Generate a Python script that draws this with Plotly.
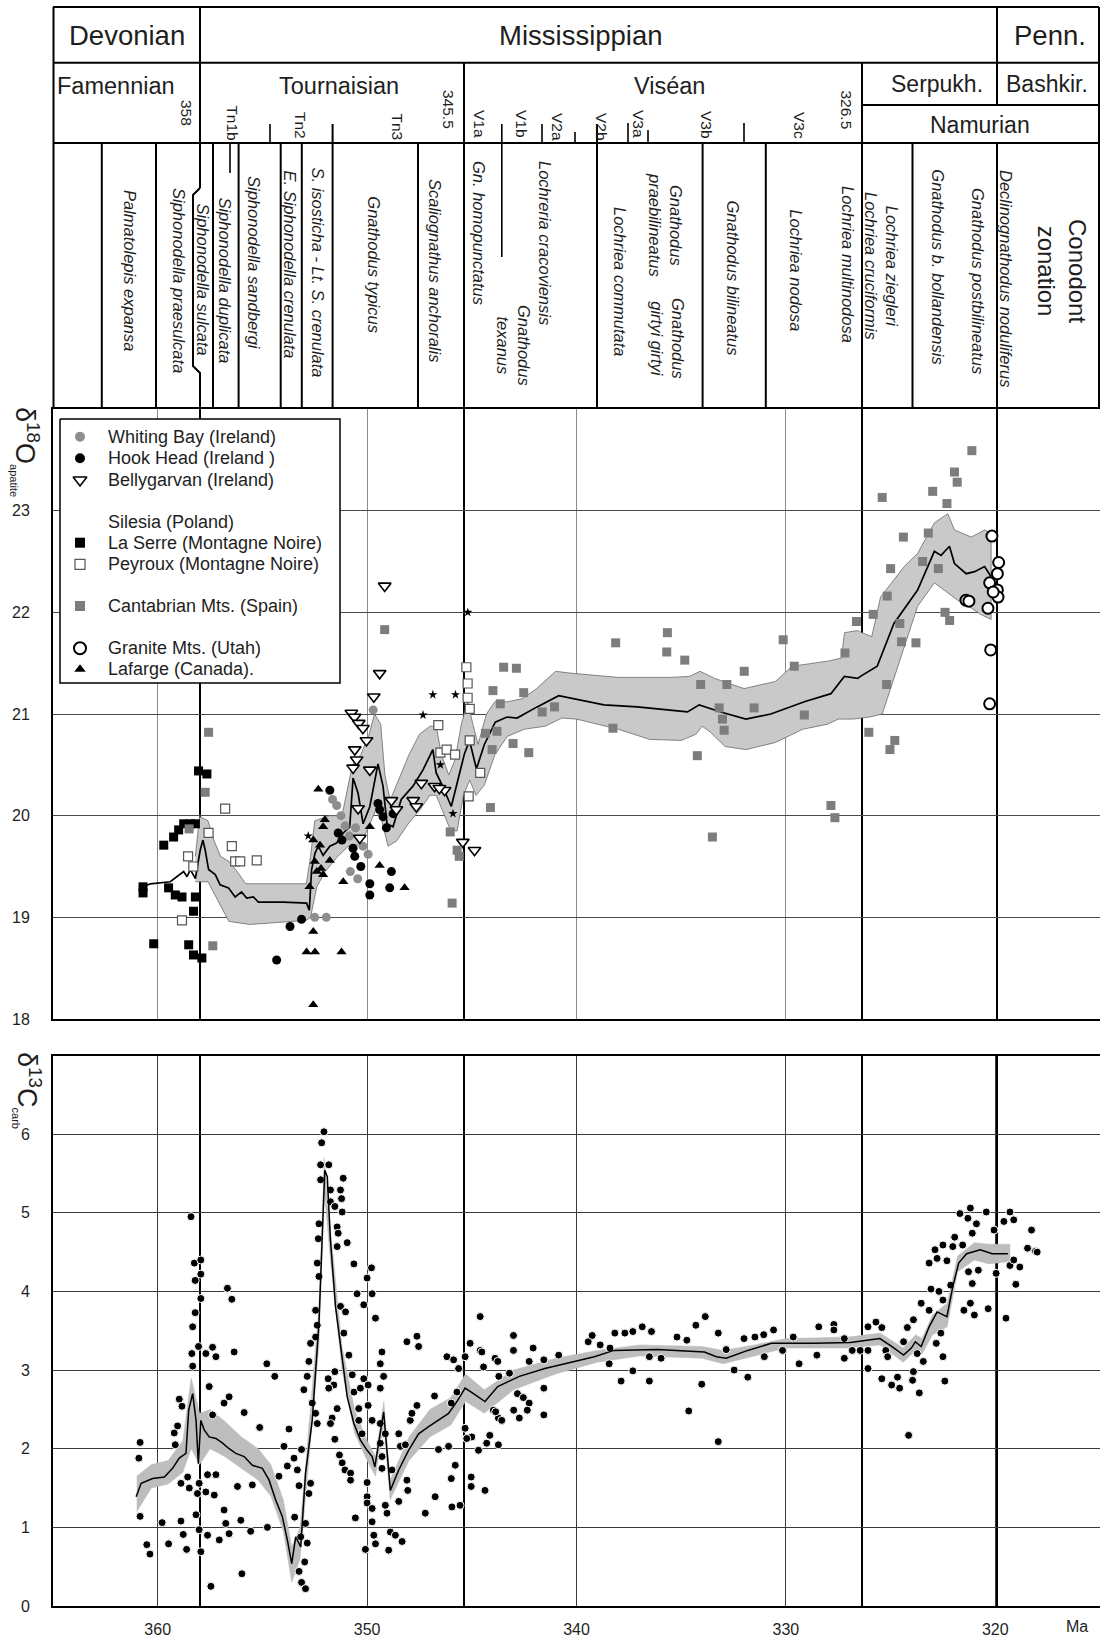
import plotly.graph_objects as go

# ======================= DATA =======================
# d18O apatite (per mil) vs age (Ma)
whiting_age = [349.71, 351.65, 351.45, 351.25, 350.55, 350.85, 351.05, 350.80, 350.45, 349.95, 352.50, 351.95, 350.20]
whiting_d18O = [21.04, 20.16, 20.10, 20.00, 19.88, 19.80, 19.90, 19.45, 19.38, 19.62, 19.00, 19.00, 19.70]

hook_age = [351.78, 351.38, 351.20, 350.67, 350.59, 349.87, 349.87, 348.84, 348.92, 349.48, 349.40, 349.24, 348.76, 349.08, 353.68, 353.13, 354.32, 350.30]
hook_d18O = [20.25, 19.83, 19.76, 19.68, 19.60, 19.33, 19.22, 19.45, 19.29, 20.12, 20.06, 19.99, 20.02, 19.88, 18.91, 18.98, 18.58, 19.50]

belly_age = [349.16, 349.40, 349.68, 350.75, 350.60, 350.40, 350.20, 350.03, 350.59, 350.50, 350.67, 349.87, 350.43, 348.84, 348.60, 347.80, 347.65, 347.41, 346.78, 346.30, 345.43, 344.87, 350.35, 346.55]
belly_d18O = [22.26, 21.40, 21.17, 21.01, 20.97, 20.91, 20.86, 20.74, 20.65, 20.55, 20.47, 20.45, 20.07, 20.15, 20.06, 20.15, 20.09, 20.32, 20.29, 20.25, 19.74, 19.66, 19.78, 20.27]

silesia_age = [345.19, 346.86, 345.78, 347.33, 352.81, 346.50, 345.90]
silesia_d18O = [22.00, 21.19, 21.19, 20.99, 19.80, 20.50, 20.02]

laserre_age = [360.70, 360.70, 358.05, 357.65, 358.76, 358.44, 358.20, 359.00, 359.24, 359.71, 359.48, 359.16, 358.84, 358.20, 358.29, 360.19, 358.52, 358.29, 357.89]
laserre_d18O = [19.30, 19.24, 20.44, 20.41, 19.92, 19.92, 19.92, 19.86, 19.79, 19.71, 19.29, 19.22, 19.20, 19.20, 19.06, 18.74, 18.73, 18.63, 18.60]

peyroux_age = [356.78, 357.57, 356.46, 356.30, 356.06, 355.27, 358.30, 358.84, 358.55, 345.26, 345.20, 345.20, 345.10, 346.60, 346.50, 346.20, 345.80, 344.60, 345.15, 345.10]
peyroux_d18O = [20.07, 19.83, 19.70, 19.55, 19.55, 19.56, 19.50, 18.97, 19.60, 21.46, 21.30, 21.16, 21.05, 20.89, 20.62, 20.65, 20.60, 20.42, 20.19, 20.74]

cantab_age = [349.16, 357.57, 357.73, 358.50, 357.37, 346.03, 345.70, 345.60, 345.94, 344.11, 344.03, 343.80, 343.03, 342.28,
              344.35, 343.64, 343.99, 343.48, 342.87, 342.52, 341.64, 341.05, 338.13, 338.26, 335.66, 335.69, 334.83, 334.07,
              332.82, 331.99, 333.19, 333.03, 332.95, 334.23, 333.51, 331.52, 330.13, 329.60, 329.12, 327.85, 327.66, 327.18,
              326.63, 321.12, 321.95, 321.82, 322.99, 322.31, 325.40, 324.39, 323.20, 323.47, 322.72, 325.00, 325.16, 325.83,
              324.56, 322.40, 322.18, 324.48, 323.79, 325.19, 326.04, 324.80, 325.03]
cantab_d18O = [21.83, 20.82, 20.23, 19.87, 18.72, 19.84, 19.66, 19.60, 19.14, 20.08, 20.65, 20.83, 20.71, 20.62,
               20.81, 21.10, 21.23, 21.46, 21.45, 21.21, 21.02, 21.07, 21.70, 20.86, 21.80, 21.61, 21.53, 21.29,
               21.29, 21.42, 21.06, 20.95, 20.84, 20.59, 19.79, 21.06, 21.73, 21.47, 20.99, 20.10, 19.98, 21.60,
               21.91, 23.59, 23.38, 23.28, 23.19, 23.07, 23.13, 22.74, 22.78, 22.50, 22.43, 22.43, 22.16, 21.98,
               21.89, 22.00, 21.92, 21.71, 21.70, 21.29, 20.82, 20.74, 20.65]

granite_age = [320.16, 319.84, 319.90, 320.27, 319.90, 319.87, 321.40, 321.26, 320.35, 320.22, 320.27, 320.10]
granite_d18O = [22.75, 22.49, 22.38, 22.29, 22.22, 22.15, 22.12, 22.11, 22.04, 21.63, 21.10, 22.20]

lafarge_age = [352.33, 352.02, 352.10, 352.57, 352.25, 351.78, 352.50, 352.20, 352.10, 352.40, 351.14, 352.57, 352.89, 352.49, 351.22, 352.57, 349.87, 349.40, 348.21, 352.75]
lafarge_d18O = [20.26, 19.96, 19.89, 19.76, 19.71, 19.56, 19.55, 19.48, 19.42, 19.45, 19.35, 18.86, 18.66, 18.66, 18.66, 18.14, 19.89, 19.51, 19.29, 19.30]

# smoothed d18O curve
smooth18_age = [360.70, 360.35, 359.40, 359.08, 358.76, 358.60, 358.44, 358.20, 357.97, 357.84, 357.73, 357.57, 357.25, 357.02,
                356.62, 356.30, 356.00, 355.75, 355.43, 355.19, 354.00, 352.89, 352.76, 352.65, 352.49, 352.33, 352.10, 351.78,
                351.46, 351.14, 350.83, 350.67, 350.43, 350.19, 349.87, 349.48, 349.24, 349.05, 348.76, 348.37, 347.81, 347.33,
                346.86, 346.70, 346.46, 345.98, 345.67, 345.35, 345.11, 344.78, 344.40, 343.88, 343.32, 342.84, 341.88, 340.85,
                338.69, 337.10, 334.70, 334.14, 333.11, 331.91, 330.72, 329.12, 327.85, 327.21, 326.57, 326.44, 325.64, 324.84,
                323.71, 322.91, 322.59, 322.19, 321.95, 321.39, 320.99, 320.51, 320.20]
smooth18_val = [19.30, 19.33, 19.35, 19.40, 19.45, 19.40, 19.47, 19.38, 19.66, 19.76, 19.66, 19.47, 19.42, 19.32,
                19.29, 19.20, 19.25, 19.19, 19.20, 19.15, 19.15, 19.14, 19.07, 19.47, 19.63, 19.70, 19.61, 19.70,
                19.73, 19.83, 19.89, 20.37, 20.22, 19.92, 20.09, 20.51, 20.29, 19.92, 19.89, 20.16, 20.29, 20.45,
                20.65, 20.42, 20.32, 20.09, 20.35, 20.61, 20.74, 20.46, 20.70, 20.92, 20.97, 20.96, 21.07, 21.18,
                21.09, 21.07, 21.02, 21.09, 21.02, 20.95, 21.00, 21.12, 21.20, 21.37, 21.35, 21.37, 21.47, 21.89,
                22.22, 22.60, 22.56, 22.65, 22.48, 22.38, 22.40, 22.45, 22.35]

band18_up_age = [358.20, 358.00, 357.60, 357.30, 357.00, 356.60, 356.20, 355.80, 352.90, 352.70, 352.50, 351.80, 351.20,
                 350.70, 350.30, 349.90, 349.65, 349.35, 349.15, 348.90, 348.50, 348.00, 347.50, 347.00, 346.70, 346.45,
                 346.10, 345.80, 345.50, 345.20, 344.95, 344.70, 344.30, 343.90, 343.30, 342.60, 341.90, 341.00, 340.20,
                 338.00, 335.50, 334.60, 334.10, 333.40, 332.00, 330.50, 329.70, 328.00, 327.35, 327.20, 326.60, 325.90,
                 325.48, 324.35, 323.71, 322.91, 322.27, 321.95, 321.15, 320.51, 320.20]
band18_up_val = [19.60, 19.99, 19.95, 19.75, 19.60, 19.55, 19.45, 19.33, 19.33, 19.60, 19.95, 20.00, 20.00,
                 20.50, 20.60, 20.80, 21.00, 20.90, 20.40, 20.15, 20.35, 20.60, 20.80, 20.88, 20.88, 20.60,
                 20.40, 20.55, 20.90, 21.12, 20.90, 20.70, 21.00, 21.12, 21.12, 21.15, 21.25, 21.42, 21.40,
                 21.36, 21.36, 21.37, 21.42, 21.35, 21.25, 21.32, 21.47, 21.52, 21.55, 21.80, 21.82, 21.76,
                 22.15, 22.45, 22.58, 22.88, 22.97, 22.81, 22.74, 22.81, 22.78]
band18_lo_age = [358.20, 357.60, 357.20, 356.60, 355.60, 352.90, 352.70, 352.40, 352.00, 351.40, 350.90, 350.50, 350.00,
                 349.60, 349.30, 349.00, 348.60, 348.00, 347.50, 347.00, 346.70, 346.40, 346.00, 345.70, 345.40, 345.10,
                 344.80, 344.40, 343.90, 343.30, 342.50, 341.50, 340.70, 340.00, 338.00, 336.50, 335.00, 334.30, 334.00,
                 333.60, 332.90, 331.90, 330.50, 329.20, 328.00, 327.50, 326.80, 326.00, 325.40, 324.67, 323.71, 322.91,
                 322.27, 321.80, 321.20, 320.70, 320.20]
band18_lo_val = [19.35, 19.35, 19.20, 18.96, 18.93, 18.97, 19.00, 19.30, 19.45, 19.60, 19.70, 19.70, 19.85,
                 20.05, 19.95, 19.70, 19.75, 19.93, 20.05, 20.20, 20.20, 20.05, 19.85, 19.85, 20.20, 20.35,
                 20.20, 20.30, 20.60, 20.78, 20.85, 20.88, 20.96, 20.95, 20.85, 20.75, 20.74, 20.80, 20.88,
                 20.82, 20.68, 20.65, 20.72, 20.85, 20.90, 20.95, 20.95, 20.97, 21.00, 21.47, 22.06, 22.29,
                 22.19, 22.12, 22.05, 21.98, 21.93]

# d13C carbonate (per mil) vs age (Ma)
c13_points = [
    (360.84, 2.08), (360.90, 1.88), (360.84, 1.14), (360.52, 0.78), (360.37, 0.66), (359.79, 1.06), (359.48, 0.79),
    (358.89, 1.08), (358.78, 0.91), (358.62, 0.72), (358.97, 2.63), (358.84, 2.54), (359.21, 2.20), (359.05, 2.29),
    (359.16, 2.05), (358.89, 1.56), (358.57, 1.64), (358.49, 1.50), (358.41, 4.95), (358.25, 4.36), (357.94, 4.40),
    (357.94, 4.22), (358.21, 4.14), (357.94, 3.91), (358.21, 3.73), (358.33, 3.55), (358.37, 3.21), (358.33, 3.05),
    (358.05, 3.30), (357.70, 3.21), (357.38, 3.29), (357.22, 3.17), (358.17, 1.16), (358.02, 0.97), (357.94, 0.69),
    (358.02, 1.56), (358.10, 1.43), (357.70, 1.45), (357.62, 1.67), (357.30, 1.41), (357.22, 1.67), (357.38, 2.43),
    (357.54, 2.79), (356.83, 2.58), (356.59, 2.66), (357.62, 0.90), (357.06, 0.84), (357.46, 0.25), (356.83, 1.22),
    (356.75, 1.05), (356.59, 0.92), (356.35, 3.23), (356.67, 4.04), (356.46, 3.90), (356.19, 1.52), (356.03, 1.09),
    (355.98, 0.41), (355.87, 2.46), (355.56, 0.95), (355.48, 1.54), (355.13, 2.27), (354.79, 3.08), (354.76, 1.00),
    (354.41, 2.92), (354.21, 1.65), (353.97, 2.03), (353.81, 1.78), (353.73, 2.25), (353.49, 1.88), (353.46, 1.13),
    (353.33, 1.73), (353.25, 1.53), (353.17, 0.88), (353.25, 0.44), (353.13, 0.30), (352.94, 0.22), (352.98, 0.56),
    (352.86, 0.80), (352.94, 1.05), (352.78, 1.43), (352.70, 1.56), (353.13, 1.99), (353.02, 2.75), (352.86, 2.92),
    (352.78, 3.11), (352.70, 3.34), (352.46, 3.42), (352.62, 2.58), (352.46, 2.45), (352.38, 2.32), (352.46, 3.76),
    (352.38, 3.57), (352.30, 4.19), (352.38, 4.36), (352.33, 4.67), (352.30, 4.86), (352.22, 5.61), (352.22, 5.42),
    (352.17, 5.89), (352.06, 6.03), (351.83, 5.61), (351.75, 5.29), (351.75, 5.14), (351.54, 5.08), (351.27, 5.29),
    (351.22, 5.18), (351.14, 5.44), (351.19, 5.01), (351.43, 4.82), (351.38, 4.74), (351.43, 4.57), (350.95, 4.62),
    (350.63, 4.35), (351.27, 3.81), (351.03, 3.74), (351.11, 3.47), (350.87, 3.19), (351.54, 2.98), (351.59, 2.81),
    (351.86, 2.89), (351.83, 2.77), (351.43, 2.51), (351.67, 2.39), (351.75, 2.32), (351.54, 2.12), (350.71, 2.94),
    (350.63, 2.72), (350.32, 2.77), (350.16, 2.89), (349.95, 2.81), (350.40, 2.51), (349.95, 2.55), (350.40, 2.36),
    (350.24, 2.19), (351.32, 1.92), (351.19, 1.82), (351.06, 1.73), (350.79, 1.69), (350.79, 1.60), (350.56, 1.12),
    (350.00, 1.57), (350.00, 1.39), (350.00, 1.31), (349.76, 1.24), (349.76, 1.07), (349.68, 0.90), (350.08, 0.72),
    (349.60, 0.79), (349.13, 1.28), (349.05, 1.18), (348.97, 0.71), (348.89, 0.94), (348.65, 0.90), (348.33, 0.82),
    (350.00, 4.17), (349.79, 4.30), (349.76, 3.97), (350.16, 3.83), (350.48, 3.97), (349.60, 3.66), (349.29, 3.23),
    (349.37, 3.08), (349.21, 2.92), (349.37, 2.77), (349.76, 2.36), (349.37, 2.32), (349.37, 2.07), (349.13, 2.19),
    (349.29, 1.90), (349.29, 1.75), (348.81, 1.73), (348.49, 2.19), (348.41, 2.03), (348.17, 2.05), (348.10, 1.60),
    (348.06, 1.47), (347.94, 2.36), (347.86, 2.45), (347.62, 2.55), (348.49, 1.33), (348.10, 3.36), (347.62, 3.43),
    (347.54, 3.30), (347.22, 1.18), (346.78, 2.67), (346.75, 1.39), (346.59, 1.99), (346.11, 2.03), (346.19, 3.17),
    (345.95, 1.26), (345.98, 1.62), (345.79, 1.79), (345.56, 1.28), (345.98, 2.58), (345.71, 2.72), (345.63, 3.02),
    (345.87, 3.13), (345.32, 3.17), (345.08, 3.34), (344.60, 3.25), (344.60, 3.68), (344.44, 3.04), (345.32, 2.26),
    (345.00, 2.15), (345.24, 2.13), (345.03, 1.64), (345.03, 1.52), (344.37, 1.47), (344.68, 1.98), (344.29, 2.07),
    (343.97, 2.49), (343.73, 2.39), (343.89, 3.15), (343.73, 2.05), (344.52, 3.23), (343.76, 3.11), (343.71, 2.92),
    (343.20, 2.96), (343.86, 2.47), (343.57, 2.36), (343.00, 2.49), (342.73, 2.39), (342.82, 2.70), (342.54, 2.65),
    (342.26, 2.58), (342.35, 2.49), (343.01, 3.44), (343.01, 3.25), (342.26, 3.11), (342.07, 3.28), (341.56, 3.13),
    (341.56, 2.77), (341.56, 2.43), (340.85, 3.19), (344.14, 2.17), (339.44, 3.36), (339.25, 3.44), (338.87, 3.32),
    (338.40, 3.28), (338.44, 3.08), (338.17, 3.47), (337.69, 3.47), (337.31, 3.49), (336.86, 3.55), (336.42, 3.49),
    (337.31, 2.99), (337.87, 2.86), (336.52, 2.86), (336.52, 3.17), (335.96, 3.15), (335.20, 3.42), (334.73, 3.38),
    (334.30, 3.57), (333.85, 3.68), (333.23, 3.47), (334.64, 2.48), (334.02, 2.82), (333.23, 2.09), (332.85, 3.26),
    (332.47, 3.00), (331.82, 2.91), (332.00, 3.40), (331.48, 3.42), (331.06, 3.45), (330.59, 3.51), (331.03, 3.17),
    (330.16, 3.25), (329.65, 3.42), (329.37, 3.08), (328.52, 3.19), (328.43, 3.55), (327.71, 3.58), (327.71, 3.51),
    (327.21, 3.40), (327.21, 3.15), (326.83, 3.25), (326.45, 3.25), (326.08, 3.25), (326.08, 3.02), (326.08, 3.55),
    (325.70, 3.61), (325.42, 3.54), (325.23, 3.25), (325.14, 3.17), (325.42, 2.89), (324.95, 2.81), (324.57, 2.77),
    (324.67, 2.91), (324.38, 3.36), (324.20, 3.54), (323.91, 3.64), (323.95, 2.87), (323.91, 2.98), (323.63, 2.71),
    (323.73, 3.21), (323.54, 3.85), (324.14, 2.17), (323.44, 3.11), (323.16, 4.36), (322.88, 4.53), (322.78, 4.42),
    (323.07, 4.03), (322.69, 4.00), (322.50, 3.89), (323.16, 3.76), (322.82, 3.34), (322.60, 3.47), (322.50, 3.17),
    (322.41, 2.86), (322.50, 4.59), (322.31, 4.39), (322.03, 4.57), (321.94, 4.69), (321.56, 4.59), (321.69, 4.99),
    (321.31, 4.93), (321.19, 5.06), (321.10, 4.74), (320.90, 4.86), (320.43, 5.01), (321.28, 4.25), (321.10, 4.10),
    (320.81, 4.27), (321.19, 3.85), (321.50, 3.76), (321.00, 3.70), (322.13, 4.08), (320.34, 3.78), (320.06, 4.78),
    (319.96, 4.23), (319.59, 4.89), (319.30, 5.01), (319.12, 4.91), (319.49, 3.66), (319.30, 4.33), (319.12, 4.40),
    (318.83, 4.31), (319.02, 4.09), (318.46, 4.55), (318.27, 4.78), (318.08, 4.51), (318.00, 4.50),
]
c13_age = [p[0] for p in c13_points]
c13_val = [p[1] for p in c13_points]

smooth13_age = [361.03, 360.79, 360.24, 359.68, 359.29, 358.97, 358.65, 358.52, 358.33, 358.17, 358.06, 357.94, 357.78,
                357.54, 357.22, 356.90, 356.59, 356.27, 355.87, 355.48, 355.00, 354.68, 354.37, 354.05, 353.81, 353.60,
                353.41, 353.17, 352.94, 352.62, 352.30, 352.14, 352.02, 351.90, 351.75, 351.51, 351.19, 350.95, 350.63,
                350.32, 350.00, 349.76, 349.63, 349.44, 349.21, 348.89, 348.49, 348.02, 347.54, 347.06, 346.59, 346.11,
                345.71, 345.32, 344.92, 344.37, 343.76, 342.73, 341.51, 340.09, 339.15, 338.21, 336.14, 333.89, 333.32,
                332.85, 331.82, 330.69, 328.62, 326.92, 325.51, 324.95, 324.38, 324.01, 323.82, 323.54, 323.16, 322.78,
                322.31, 322.03, 321.75, 321.37, 320.72, 320.15, 319.40]
smooth13_val = [1.39, 1.56, 1.62, 1.64, 1.75, 1.88, 1.94, 2.49, 2.70, 2.36, 1.81, 2.36, 2.24,
                2.15, 2.13, 2.07, 2.00, 1.94, 1.90, 1.79, 1.75, 1.60, 1.35, 1.14, 0.84, 0.54,
                0.88, 0.75, 1.69, 2.36, 3.59, 4.65, 5.54, 5.46, 4.65, 3.81, 3.13, 2.66, 2.32,
                2.11, 1.98, 1.90, 1.77, 2.11, 2.47, 1.47, 1.73, 1.98, 2.19, 2.28, 2.36, 2.45,
                2.60, 2.77, 2.70, 2.60, 2.79, 2.92, 3.02, 3.11, 3.17, 3.25, 3.26, 3.23, 3.17,
                3.15, 3.25, 3.34, 3.34, 3.35, 3.40, 3.30, 3.19, 3.28, 3.36, 3.30, 3.55, 3.74,
                3.68, 4.06, 4.36, 4.48, 4.53, 4.48, 4.48]

band13_age = [361.0, 360.3, 359.5, 358.8, 358.4, 358.0, 357.5, 356.8, 356.0, 355.2, 354.6, 354.0, 353.6, 353.2, 352.9,
              352.3, 352.05, 351.75, 351.2, 350.6, 350.0, 349.6, 349.2, 348.9, 348.0, 347.0, 346.0, 345.3, 344.4, 343.0,
              341.0, 339.0, 337.0, 334.0, 333.0, 331.5, 330.0, 327.0, 325.5, 324.4, 323.8, 323.5, 323.0, 322.3, 321.8,
              321.0, 320.3, 319.3]
band13_lo = [1.20, 1.50, 1.55, 1.70, 2.00, 1.80, 2.00, 1.90, 1.75, 1.60, 1.40, 0.95, 0.30, 0.60, 1.50,
             3.30, 5.30, 4.40, 3.00, 2.20, 1.85, 1.65, 2.30, 1.35, 1.85, 2.15, 2.30, 2.60, 2.45, 2.75,
             2.95, 3.10, 3.18, 3.15, 3.08, 3.18, 3.28, 3.28, 3.32, 3.10, 3.25, 3.20, 3.45, 3.55, 4.25,
             4.40, 4.35, 4.38]
band13_up = [1.65, 1.80, 1.85, 2.10, 2.90, 2.45, 2.50, 2.35, 2.15, 2.00, 1.80, 1.35, 0.75, 1.00, 1.90,
             3.80, 5.70, 4.80, 3.30, 2.50, 2.10, 1.90, 2.60, 1.60, 2.15, 2.50, 2.65, 2.95, 2.75, 3.00,
             3.15, 3.25, 3.32, 3.30, 3.25, 3.32, 3.40, 3.42, 3.47, 3.28, 3.45, 3.40, 3.70, 3.85, 4.45,
             4.62, 4.60, 4.60]

x_ticks = [360, 350, 340, 330, 320]
y18_ticks = [18, 19, 20, 21, 22, 23]
y13_ticks = [0, 1, 2, 3, 4, 5, 6]

# ======================= LAYOUT HELPERS =======================
W, H = 1100, 1640
ML, MR, MT, MB = 53, 0, 0, 34
PW, PH = W - ML - MR, H - MT - MB
XR = [365.0, 315.0]
FONT = "Liberation Sans, Arial, Helvetica, sans-serif"
INK = "#1e1e1e"

TOP, R1, R2, RSPL, HB = 7, 62.7, 143, 105, 409
P1B, P2T, P2B = 1019, 1055.5, 1606
B358, B345, B326, B320 = 200, 464, 862, 997


def px(xp):
    return (xp - ML) / PW


def py(yp):
    return (PH - (yp - MT)) / PH


fig = go.Figure()

# ---- d18O panel ----
fig.add_trace(go.Scatter(x=band18_up_age + band18_lo_age[::-1], y=band18_up_val + band18_lo_val[::-1],
                         fill="toself", fillcolor="#c9c9c9", line=dict(color="#6a6a6a", width=0.8),
                         mode="lines", hoverinfo="skip", showlegend=False, xaxis="x", yaxis="y"))
fig.add_trace(go.Scatter(x=smooth18_age, y=smooth18_val, mode="lines", line=dict(color="black", width=1.7),
                         showlegend=False, xaxis="x", yaxis="y"))

M_WHITING = dict(symbol="circle", size=9, color="#8e8e8e")
M_HOOK = dict(symbol="circle", size=9, color="black")
M_BELLY = dict(symbol="triangle-down", size=11, color="white", line=dict(color="black", width=1.6))
M_SILESIA = dict(symbol="star", size=7, color="black")
M_LASERRE = dict(symbol="square", size=9, color="black")
M_PEYROUX = dict(symbol="square", size=9, color="white", line=dict(color="#555555", width=1.2))
M_CANTAB = dict(symbol="square", size=9, color="#7d7d7d")
M_GRANITE = dict(symbol="circle", size=11, color="white", line=dict(color="black", width=2))
M_LAFARGE = dict(symbol="triangle-up", size=9, color="black")

series = [
    ("Whiting Bay (Ireland)", whiting_age, whiting_d18O, M_WHITING),
    ("Hook Head (Ireland )", hook_age, hook_d18O, M_HOOK),
    ("Bellygarvan (Ireland)", belly_age, belly_d18O, M_BELLY),
    ("Silesia (Poland)", silesia_age, silesia_d18O, M_SILESIA),
    ("La Serre (Montagne Noire)", laserre_age, laserre_d18O, M_LASERRE),
    ("Peyroux (Montagne Noire)", peyroux_age, peyroux_d18O, M_PEYROUX),
    ("Cantabrian Mts. (Spain)", cantab_age, cantab_d18O, M_CANTAB),
    ("Granite Mts. (Utah)", granite_age, granite_d18O, M_GRANITE),
    ("Lafarge (Canada).", lafarge_age, lafarge_d18O, M_LAFARGE),
]
for name, xs, ys, mk in series:
    fig.add_trace(go.Scatter(x=xs, y=ys, mode="markers", name=name, marker=mk, showlegend=False,
                             xaxis="x", yaxis="y"))

# ---- d13C panel ----
fig.add_trace(go.Scatter(x=band13_age + band13_age[::-1], y=band13_up + band13_lo[::-1], fill="toself",
                         fillcolor="#bdbdbd", line=dict(color="#bdbdbd", width=0.5), mode="lines",
                         hoverinfo="skip", showlegend=False, xaxis="x2", yaxis="y2"))
fig.add_trace(go.Scatter(x=c13_age, y=c13_val, mode="markers",
                         marker=dict(symbol="circle", size=8, color="black", line=dict(color="white", width=1)),
                         showlegend=False, xaxis="x2", yaxis="y2"))
fig.add_trace(go.Scatter(x=smooth13_age, y=smooth13_val, mode="lines", line=dict(color="black", width=1.5),
                         showlegend=False, xaxis="x2", yaxis="y2"))

# ---- hand-made legend box (pixel-space overlay axes on the d18O panel) ----
LEG_BOX = (60, 419, 340, 683)
LEG_SYM_X, LEG_TXT_X = 80, 106
LEG_ROWS = [436.7, 458.3, 480.0, 521.7, 542.7, 564.3, 606.0, 648.3, 669.3]
bx0, by0, bx1, by1 = LEG_BOX
fig.add_trace(go.Scatter(x=[bx0, bx1, bx1, bx0, bx0], y=[by0, by0, by1, by1, by0], mode="lines",
                         fill="toself", fillcolor="white", line=dict(color="black", width=1.5),
                         hoverinfo="skip", showlegend=False, xaxis="x3", yaxis="y3"))
for (name, _, _, mk), ry in zip(series, LEG_ROWS):
    if name.startswith("Silesia"):
        continue  # the reference shows no symbol for Silesia in the key
    lm = dict(mk)
    lm["size"] = mk["size"] + 1
    fig.add_trace(go.Scatter(x=[LEG_SYM_X], y=[ry], mode="markers", marker=lm, hoverinfo="skip",
                             showlegend=False, xaxis="x3", yaxis="y3"))

# ======================= SHAPES =======================
shapes = []


def vline(xp, y0, y1, w=2, c="black", layer="above"):
    shapes.append(dict(type="line", xref="paper", yref="paper", x0=px(xp), x1=px(xp), y0=py(y0), y1=py(y1),
                       line=dict(color=c, width=w), layer=layer))


def hline(y, x0, x1, w=2, c="black"):
    shapes.append(dict(type="line", xref="paper", yref="paper", x0=px(x0), x1=px(x1), y0=py(y), y1=py(y),
                       line=dict(color=c, width=w)))


hline(TOP, ML, 1099)
hline(R1, ML, 1099)
hline(R2, ML, 1099)
hline(RSPL, B326, 1099)
vline(ML + 0.5, TOP, HB)
vline(1099, TOP, HB)
vline(B358, TOP, 188)
shapes.append(dict(type="path", xref="paper", yref="paper",
                   path=f"M {px(B358)},{py(188)} L {px(193)},{py(195)} L {px(193)},{py(366)} "
                        f"L {px(B358)},{py(373)} L {px(B358)},{py(HB)}",
                   line=dict(color="black", width=2)))
vline(B345, R1, HB)
vline(B326, R1, HB)
vline(B320, TOP, RSPL)
vline(B320, R2, HB)
for xz in [101.8, 156, 213, 238.6, 280.7, 301.8, 418, 702.6, 765.8, 912.5]:
    vline(xz, R2, HB)
vline(332.6, 124, HB)
vline(597, 124, HB)
vline(501.8, 124, 257, w=1.6)
vline(230, R2, 173, w=1.6)
for xt, yt in [(270, 124), (542, 124), (575, 132), (628, 123), (648, 130), (744, 123)]:
    vline(xt, yt, R2, w=1.6)
for xb in [B358, B345, B326, B320]:
    vline(xb, HB, P1B, w=2, layer="between")
    vline(xb, P2T, P2B, w=2, layer="between")

# ======================= ANNOTATIONS =======================
ann = []


def txt(t, xp, yp, size, angle=0, italic=False, align="center", xanchor="center"):
    ann.append(dict(text=t, x=px(xp), y=py(yp), xref="paper", yref="paper", showarrow=False,
                    textangle=angle, align=align, xanchor=xanchor, yanchor="middle",
                    font=dict(family=FONT, size=size, color=INK, style="italic" if italic else "normal")))


txt("Devonian", 127, 36, 27.5)
txt("Mississippian", 581, 36, 27.5)
txt("Penn.", 1050, 36, 27.5)
txt("Famennian", 116, 86, 23.5)
txt("Tournaisian", 339, 86, 23.5)
txt("Viséan", 669, 86, 23.5)
txt("Serpukh.", 937, 84, 23)
txt("Bashkir.", 1047, 84, 23)
txt("Namurian", 980, 125, 23)

for label, xl, yl in [("358", 186, 113), ("Tn1b", 231.6, 123), ("Tn2", 300, 125), ("Tn3", 396.5, 127),
                      ("345.5", 449, 109), ("V1a", 479, 124), ("V1b", 521, 124), ("V2a", 557, 127),
                      ("V2b", 601, 127), ("V3a", 638, 124), ("V3b", 706, 125), ("V3c", 799, 125),
                      ("326.5", 846.5, 110)]:
    txt(label, xl, yl, 15.5, angle=90)

zones = [("Palmatolepis expansa", 130, 270), ("Siphonodella praesulcata", 179, 280),
         ("Siphonodella sulcata", 202.5, 279), ("Siphonodella duplicata", 224.6, 280),
         ("Siphonodella sandbergi", 254, 263), ("E. Siphonodella crenulata", 289.5, 264),
         ("S. isosticha - Lt. S. crenulata", 317.5, 272), ("Gnathodus typicus", 373.7, 265),
         ("Scaliognathus anchoralis", 435, 270), ("Gn. homopunctatus", 479, 233),
         ("Gnathodus<br>texanus", 513, 345), ("Lochreria cracoviensis", 545, 243),
         ("Lochriea commutata", 620, 282), ("Gnathodus<br>praebilineatus", 666, 225),
         ("Gnathodus<br>girtyi girtyi", 667, 338), ("Gnathodus bilineatus", 732.5, 278),
         ("Lochriea nodosa", 795.6, 270), ("Lochriea multinodosa", 848, 264),
         ("Lochriea ziegleri<br>Lochriea cruciformis", 882, 266), ("Gnathodus b. bollandensis", 937.7, 267),
         ("Gnathodus postbilineatus", 978, 281), ("Declinognathodus noduliferus", 1006, 278)]
for z, xz, yz in zones:
    txt(z, xz, yz, 16.5, angle=90, italic=True)
txt("Conodont<br>zonation", 1062, 271, 24, angle=90)

txt("δ<sup>18</sup>O<sub><span style='font-size:11px'>apatite</span></sub>", 26, 452, 27, angle=90)
txt("δ<sup>13</sup>C<sub><span style='font-size:11px'>carb</span></sub>", 28, 1090, 27, angle=90)
txt("Ma", 1077, 1626, 16)

# legend texts
for (name, _, _, _), ry in zip(series, LEG_ROWS):
    txt(name, LEG_TXT_X, ry, 18, xanchor="left")

# ======================= AXES =======================
axis_common = dict(showline=True, linecolor="black", linewidth=2, mirror=True, zeroline=False, ticks="",
                   tickfont=dict(family=FONT, size=16, color=INK))
fig.update_layout(
    width=W, height=H, paper_bgcolor="white", plot_bgcolor="white",
    margin=dict(l=ML, r=MR, t=MT, b=MB, autoexpand=False),
    font=dict(family=FONT, color=INK),
    xaxis=dict(domain=[0, 1], range=XR, anchor="y", tickvals=x_ticks[:-1], showticklabels=False,
               showgrid=True, gridcolor="#8a8a8a", gridwidth=1, **axis_common),
    yaxis=dict(domain=[py(P1B), py(HB)], range=[18, 24], anchor="x", tickvals=y18_ticks,
               ticktext=[str(v) for v in y18_ticks], showgrid=True, gridcolor="#4a4a4a", gridwidth=1.3,
               ticklabelstandoff=18, **axis_common),
    xaxis2=dict(domain=[0, 1], range=XR, anchor="y2", tickvals=x_ticks, ticktext=[str(v) for v in x_ticks],
                showgrid=True, gridcolor="#3a3a3a", gridwidth=1.4, ticklabelstandoff=8, **axis_common),
    yaxis2=dict(domain=[0, py(P2T)], range=[0, 7], anchor="x2", tickvals=y13_ticks,
                ticktext=[str(v) for v in y13_ticks], showgrid=True, gridcolor="#3a3a3a", gridwidth=1.4,
                ticklabelstandoff=18, **axis_common),
    xaxis3=dict(overlaying="x", range=[ML, W], visible=False, fixedrange=True),
    yaxis3=dict(overlaying="y", range=[P1B, HB], visible=False, fixedrange=True),
    shapes=shapes, annotations=ann, showlegend=False,
)

fig.write_html("out.html")
